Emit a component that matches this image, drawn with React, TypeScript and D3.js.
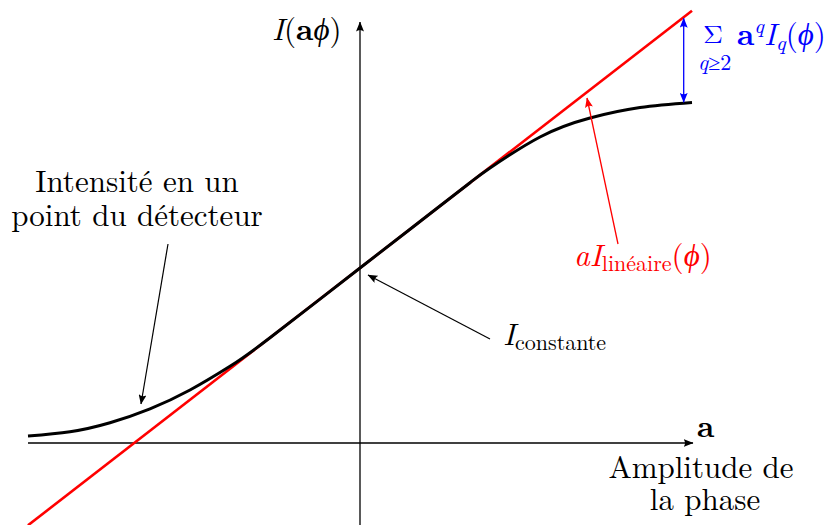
import React from "react";
import * as d3 from "d3";

// Detector intensity versus phase amplitude a (abscissa) — sampled response curve
const amplitude = [-1.0, -0.8735, -0.753, -0.6325, -0.512, -0.3916, -0.2711, 0.0, 0.1807, 0.3313, 0.3916, 0.5422, 0.6928, 0.8434, 1.0];
const intensity = [0.0211, 0.0339, 0.0611, 0.103, 0.1596, 0.231, 0.317, 0.5271, 0.6672, 0.7839, 0.8283, 0.9217, 0.9789, 1.0105, 1.0256];

// Linear approximation: I_constante + a * I_linéaire
const iConstante = [0.5271];
const iLineaire = [0.775];
const lineRange = [-1.0, 1.0];

const W = 835;
const H = 525;
const FONT = "Latin Modern Roman, Liberation Serif, serif";

export default function App() {
  const x = d3.scaleLinear().domain([-1, 1]).range([28, 692]);
  const y = d3.scaleLinear().domain([0, 1]).range([443, 111]);

  const pts: [number, number][] = amplitude.map((a, i) => [a, intensity[i]]);
  const curvePath = d3
    .line<[number, number]>()
    .x((d) => x(d[0]))
    .y((d) => y(d[1]))
    .curve(d3.curveNatural)(pts) as string;

  const lin = (a: number) => iConstante[0] + iLineaire[0] * a;
  const linePath = d3
    .line<number>()
    .x((a) => x(a))
    .y((a) => y(lin(a)))(lineRange) as string;

  const x0 = x(0);
  const y0 = y(0);

  // gap arrow between linear term and actual response at the right end
  const n = amplitude.length;
  const gapA = 0.975;
  const gapTop = y(lin(gapA));
  const gapBot = y(
    d3.interpolateNumber(intensity[n - 2], intensity[n - 1])((gapA - amplitude[n - 2]) / (amplitude[n - 1] - amplitude[n - 2]))
  );

  return (
    <svg width={W} height={H} style={{ position: "absolute", left: 0, top: 0, background: "#fff", fontFamily: FONT }}>
      <defs>
        {[
          ["arrK", "#000"],
          ["arrR", "#f00"],
          ["arrB", "#00f"],
        ].map(([id, c]) => (
          <marker key={id} id={id} viewBox="0 0 10 8" refX="9.5" refY="4" markerWidth="10" markerHeight="8" markerUnits="userSpaceOnUse" orient="auto-start-reverse">
            <path d="M0,0 Q3,4 0,8 L10,4 Z" fill={c} />
          </marker>
        ))}
      </defs>

      {/* axes */}
      <line x1={x(-1)} x2={693} y1={y0} y2={y0} stroke="#000" strokeWidth={1.3} markerEnd="url(#arrK)" />
      <line x1={x0} x2={x0} y1={H} y2={22} stroke="#000" strokeWidth={1.3} markerEnd="url(#arrK)" />

      {/* linear approximation */}
      <path d={linePath} fill="none" stroke="#f00" strokeWidth={2.6} />
      {/* intensity curve */}
      <path d={curvePath} fill="none" stroke="#000" strokeWidth={3} />

      {/* axis labels */}
      <text x={272} y={40} fontSize={31}>
        <tspan fontStyle="italic">I</tspan>(<tspan fontWeight="bold">a</tspan>
        <tspan fontStyle="italic">ϕ</tspan>)
      </text>
      <text x={697} y={437} fontSize={31} fontWeight="bold">a</text>
      <text fontSize={31} textAnchor="middle">
        <tspan x={701} y={478}>Amplitude de</tspan>
        <tspan x={705} y={510}>la phase</tspan>
      </text>

      {/* curve annotation */}
      <text fontSize={31} textAnchor="middle">
        <tspan x={137} y={192}>Intensité en un</tspan>
        <tspan x={137} y={226}>point du détecteur</tspan>
      </text>
      <line x1={168} y1={244} x2={141} y2={404} stroke="#000" strokeWidth={1.2} markerEnd="url(#arrK)" />

      {/* constant term */}
      <line x1={490} y1={339} x2={x0 + 8} y2={y(iConstante[0]) + 7} stroke="#000" strokeWidth={1.2} markerEnd="url(#arrK)" />
      <text x={503} y={345} fontSize={31}>
        <tspan fontStyle="italic">I</tspan>
        <tspan fontSize={22} dy={5}>constante</tspan>
      </text>

      {/* linear term */}
      <line x1={618} y1={244} x2={587} y2={98} stroke="#f00" strokeWidth={1.3} markerEnd="url(#arrR)" />
      <text x={574} y={266} fontSize={31} fill="#f00">
        <tspan fontStyle="italic">aI</tspan>
        <tspan fontSize={22} dy={5}>linéaire</tspan>
        <tspan dy={-5}>(</tspan>
        <tspan fontStyle="italic">ϕ</tspan>)
      </text>

      {/* higher orders */}
      <line x1={x(gapA)} x2={x(gapA)} y1={gapTop + 1} y2={gapBot - 1} stroke="#00f" strokeWidth={1.3} markerStart="url(#arrB)" markerEnd="url(#arrB)" />
      <text fill="#00f" fontSize={31}>
        <tspan x={703} y={43} fontSize={25} textLength={20} lengthAdjust="spacingAndGlyphs">Σ</tspan>
        <tspan x={698} y={70} fontSize={22} fontStyle="italic">q</tspan>
        <tspan fontSize={22}>≥2</tspan>
        <tspan x={737} y={45} fontWeight="bold">a</tspan>
        <tspan fontSize={21} fontStyle="italic" dy={-12}>q</tspan>
        <tspan fontStyle="italic" dy={12}>I</tspan>
        <tspan fontSize={21} fontStyle="italic" dy={5}>q</tspan>
        <tspan dy={-5}>(</tspan>
        <tspan fontStyle="italic">ϕ</tspan>)
      </text>
    </svg>
  );
}
